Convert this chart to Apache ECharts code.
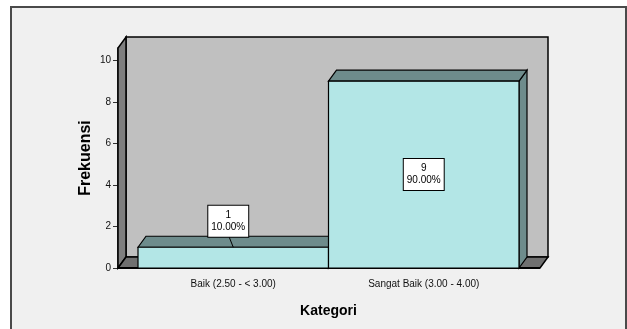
<!DOCTYPE html>
<html>
<head>
<meta charset="utf-8">
<script src="https://cdn.jsdelivr.net/npm/echarts@6/dist/echarts.min.js"></script>
<style>
	html,body{margin:0;padding:0;background:#fff;}
	#chart{width:627px;height:329px;}
</style>
</head>
<body>
<div id="chart"></div>
<script>
const categories=['Baik (2.50 - < 3.00)','Sangat Baik (3.00 - 4.00)'];
const frekuensi=[1,9];
const labelPlace=['top','inside'];
const yTicks=[0,2,4,6,8,10];

const total=frekuensi.reduce((a,b)=>a+b,0);
const depthX=8,depthY=11,wallPad=20;
const fontName='"Liberation Sans", Arial, sans-serif';

function renderChamber(params,api){
	let cs=params.coordSys;
	let l=cs.x-wallPad,r=cs.x+cs.width+wallPad+1;
	let t=cs.y,b=cs.y+cs.height;
	let line={stroke:'#000',lineWidth:1.5};
	return {
		type:'group',
		children:[
			{type:'rect',shape:{x:l+depthX,y:t-depthY,width:r-l,height:b-t},style:Object.assign({fill:'#c0c0c0'},line)},
			{type:'polygon',shape:{points:[[l,b],[l,t],[l+depthX,t-depthY],[l+depthX,b-depthY]]},style:Object.assign({fill:'#7f7f7f'},line)},
			{type:'polygon',shape:{points:[[l,b],[l+depthX,b-depthY],[r+depthX,b-depthY],[r,b]]},style:Object.assign({fill:'#707070'},line)},
			{type:'line',shape:{x1:l,y1:b,x2:r,y2:b},style:{stroke:'#000',lineWidth:2}}
		]
	};
}

function renderBar(params,api){
	let idx=api.value(0);
	let val=api.value(1);
	let p0=api.coord([idx,0]);
	let p1=api.coord([idx,val]);
	let w=api.size([1,0])[0];
	let x0=p0[0]-w/2,x1=p0[0]+w/2,y0=p0[1],y1=p1[1];
	let line={stroke:'#000',lineWidth:1.2};
	let children=[
		{type:'polygon',shape:{points:[[x1,y1],[x1+depthX,y1-depthY],[x1+depthX,y0-depthY],[x1,y0]]},style:Object.assign({fill:'#6e8c8c'},line)},
		{type:'polygon',shape:{points:[[x0,y1],[x0+depthX,y1-depthY],[x1+depthX,y1-depthY],[x1,y1]]},style:Object.assign({fill:'#6e8c8c'},line)},
		{type:'rect',shape:{x:x0,y:y1,width:w,height:y0-y1},style:Object.assign({fill:'#b3e6e6'},line)}
	];
	let txt=val+'\n'+(val/total*100).toFixed(2)+'%';
	let boxStyle={
		text:txt,font:'10px '+fontName,fill:'#000',align:'center',verticalAlign:'middle',
		backgroundColor:'#fff',borderColor:'#000',borderWidth:1,padding:[4,3,3,3],lineHeight:12
	};
	if(labelPlace[params.dataIndex]=='top'){
		let cx=p0[0]-5,bottom=y1-10;
		children.push({type:'line',shape:{x1:cx+1,y1:bottom,x2:p0[0],y2:y1},style:{stroke:'#000',lineWidth:1}});
		children.push({type:'text',x:cx,y:bottom-16,style:boxStyle});
	} else{
		children.push({type:'text',x:p0[0],y:(y0+y1)/2,style:boxStyle});
	}
	return {type:'group',children:children};
}

let chartDom=document.getElementById('chart');
let myChart=echarts.init(chartDom);

myChart.setOption({
	animation:false,
	backgroundColor:'#fff',
	graphic:[
		{type:'rect',z:-10,shape:{x:11,y:7,width:615,height:340},style:{fill:'#f0f0f0',stroke:'#4a4a4a',lineWidth:2}}
	],
	grid:{left:138,right:108,top:48,bottom:61},
	xAxis:{
		type:'category',
		data:categories,
		axisLine:{show:false},
		axisTick:{alignWithLabel:true,length:7,lineStyle:{color:'#333',width:1.5}},
		axisLabel:{margin:11,fontSize:10,fontFamily:fontName,color:'#111'},
		name:'Kategori',
		nameLocation:'middle',
		nameGap:36,
		nameMoveOverlap:false,
		nameTextStyle:{fontSize:14,fontWeight:'bold',fontFamily:fontName,color:'#000'}
	},
	yAxis:{
		type:'value',
		min:0,max:10.6,interval:2,
		offset:20,
		splitLine:{show:false},
		axisLine:{show:true,lineStyle:{color:'#000',width:1.5}},
		axisTick:{show:true,inside:false,length:5,customValues:yTicks,lineStyle:{color:'#333'}},
		axisLabel:{margin:7,fontSize:10,fontFamily:fontName,color:'#111',customValues:yTicks},
		name:'Frekuensi',
		nameLocation:'middle',
		nameRotate:90,
		nameGap:24,
		nameMoveOverlap:false,
		nameTextStyle:{fontSize:16,fontWeight:'bold',fontFamily:fontName,color:'#000'}
	},
	series:[
		{type:'custom',renderItem:renderChamber,data:[[0,0]],silent:true,z:1,clip:false},
		{type:'custom',renderItem:renderBar,data:frekuensi.map((v,i)=>[i,v]),z:2,clip:false}
	]
});
</script>
</body>
</html>
